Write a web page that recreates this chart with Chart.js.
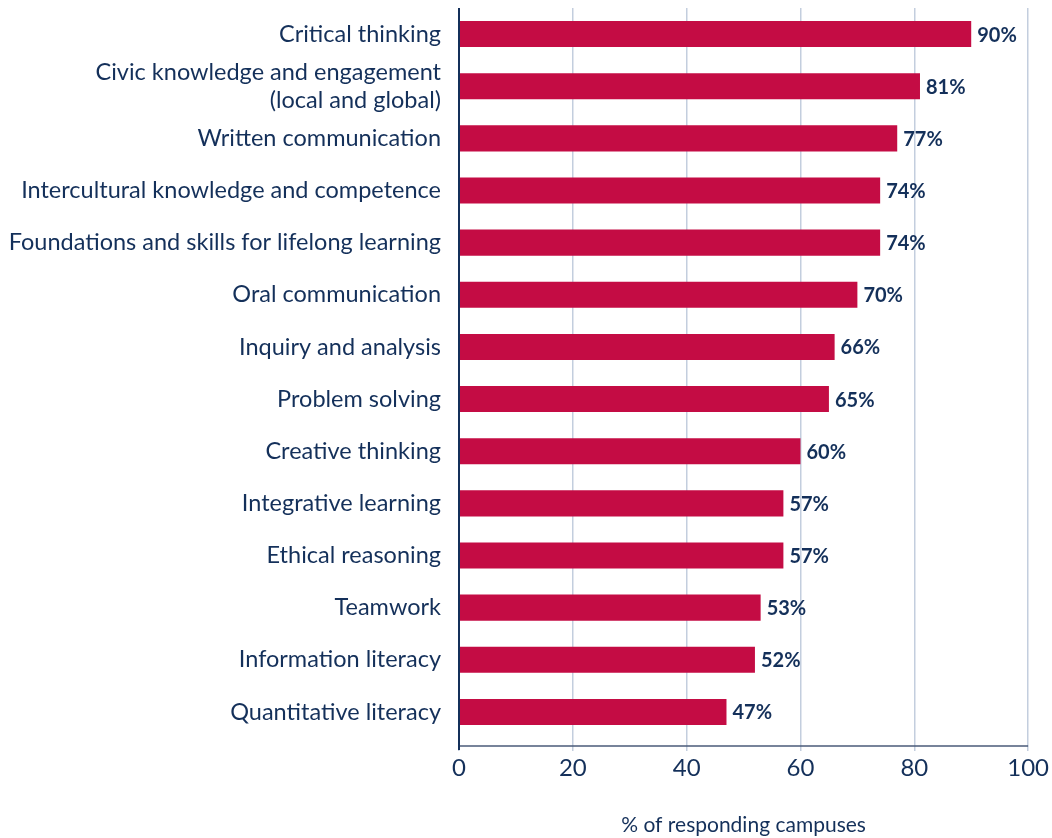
<!DOCTYPE html>
<html>
<head>
<meta charset="utf-8">
<script src="https://cdn.jsdelivr.net/npm/chart.js@4"></script>
<style>
  html, body { margin: 0; padding: 0; background: #fff; }
  #wrap { width: 1052px; height: 838px; }
</style>
</head>
<body>
<div id="wrap"><canvas id="outcomes"></canvas></div>
<script>
const categories = [
    'Critical thinking',
    ['Civic knowledge and engagement', '(local and global)'],
    'Written communication',
    'Intercultural knowledge and competence',
    'Foundations and skills for lifelong learning',
    'Oral communication',
    'Inquiry and analysis',
    'Problem solving',
    'Creative thinking',
    'Integrative learning',
    'Ethical reasoning',
    'Teamwork',
    'Information literacy',
    'Quantitative literacy'
];
const percents = [90, 81, 77, 74, 74, 70, 66, 65, 60, 57, 57, 53, 52, 47];
const xTicks = [0, 20, 40, 60, 80, 100];

const navy = '#14305a';
const gridBlue = '#c3cede';
const axisGap = 8; // the x axis sits a little below the last category

// draws the "90%" style labels at the end of each bar
const valueLabels = {
    id: 'valueLabels',
    afterDatasetsDraw(chart) {
        const ctx = chart.ctx;
        const meta = chart.getDatasetMeta(0);
        ctx.save();
        ctx.font = 'bold 20px Lato';
        ctx.fillStyle = navy;
        ctx.textAlign = 'left';
        ctx.textBaseline = 'middle';
        meta.data.forEach((bar, i) => {
            ctx.fillText(percents[i] + '%', bar.x + 6, bar.y + 1);
        });
        ctx.restore();
    }
};

// axis lines, drawn by hand so the x axis can sit below the plot area
const axisLines = {
    id: 'axisLines',
    afterDraw(chart) {
        const { ctx, chartArea: a } = chart;
        ctx.save();
        ctx.strokeStyle = '#4a5a78';
        ctx.lineWidth = 1.5;
        ctx.beginPath();
        ctx.moveTo(a.left, a.bottom + axisGap);
        ctx.lineTo(a.right, a.bottom + axisGap);
        ctx.stroke();
        ctx.strokeStyle = navy;
        ctx.lineWidth = 2;
        ctx.beginPath();
        ctx.moveTo(a.left, a.top);
        ctx.lineTo(a.left, a.bottom + axisGap + 4);
        ctx.stroke();
        ctx.restore();
    }
};

new Chart(document.getElementById('outcomes'), {
    type: 'bar',
    data: {
        labels: categories,
        datasets: [{
            data: percents,
            backgroundColor: '#c40c44',
            barPercentage: 0.5,
            categoryPercentage: 1
        }]
    },
    options: {
        indexAxis: 'y',
        responsive: true,
        maintainAspectRatio: false,
        animation: false,
        layout: { padding: { top: 8, right: 23, left: 0, bottom: 0 } },
        plugins: {
            legend: { display: false },
            tooltip: { enabled: false }
        },
        scales: {
            x: {
                min: 0,
                max: 100,
                afterBuildTicks: scale => { scale.ticks = xTicks.map(v => ({ value: v })); },
                afterFit: scale => { scale.height = 100; },
                grid: {
                    color: gridBlue,
                    tickColor: gridBlue,
                    lineWidth: 1.5,
                    drawTicks: true,
                    tickLength: axisGap + 5
                },
                border: { display: false },
                ticks: {
                    color: navy,
                    font: { family: 'Lato', size: 24 },
                    padding: 3
                },
                title: {
                    display: true,
                    text: '% of responding campuses',
                    color: navy,
                    font: { family: 'Lato', size: 21 },
                    padding: { top: 33, bottom: 0 }
                }
            },
            y: {
                afterFit: scale => {
                    scale.width = 459;
                    scale.paddingTop = 0;
                    scale.paddingBottom = 0;
                },
                grid: { display: false },
                border: { display: false },
                ticks: {
                    color: navy,
                    font: { family: 'Lato', size: 23.5 },
                    padding: 10,
                    autoSkip: false
                }
            }
        }
    },
    plugins: [valueLabels, axisLines]
});
</script>
</body>
</html>
